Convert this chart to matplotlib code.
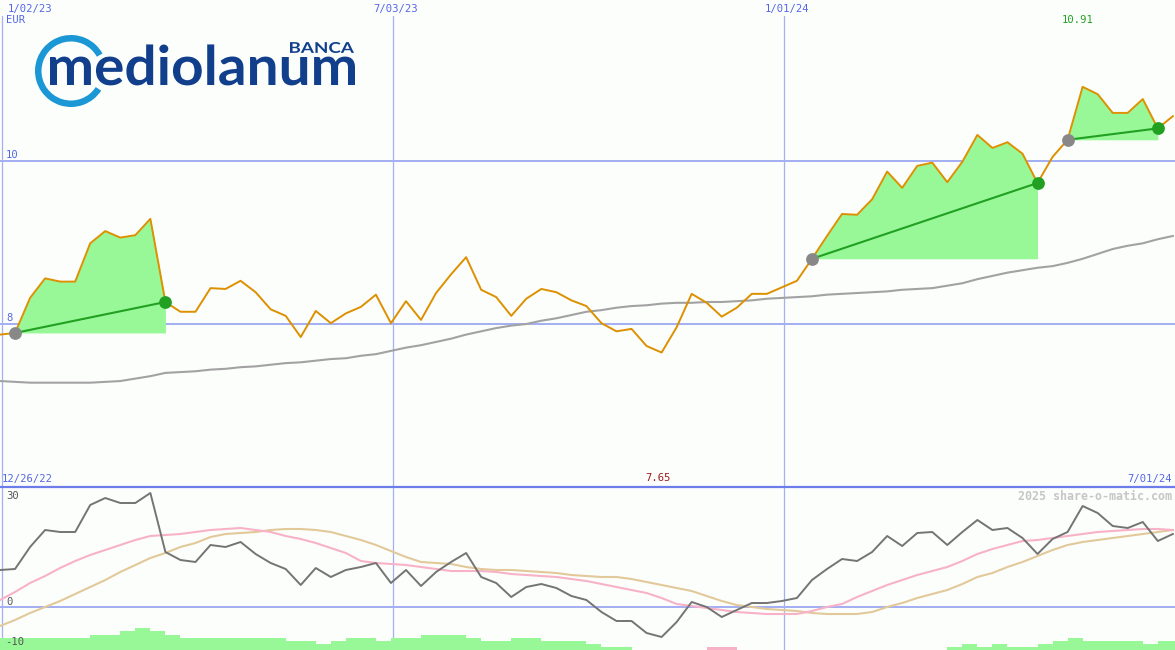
import numpy as np
import pandas as pd
import matplotlib
matplotlib.use("Agg")
import matplotlib.pyplot as plt
from matplotlib.textpath import TextPath
from matplotlib.font_manager import FontProperties
from matplotlib.patches import PathPatch, Wedge
from matplotlib.transforms import Affine2D

# ---------------- data ----------------
dates = pd.date_range("2023-01-01", periods=79, freq="7D")

price = [7.87, 7.89, 8.32, 8.56, 8.52, 8.52, 8.99, 9.14, 9.06, 9.09,
         9.29, 8.27, 8.15, 8.15, 8.44, 8.43, 8.53, 8.39, 8.18, 8.10,
         7.84, 8.16, 8.01, 8.13, 8.21, 8.36, 8.01, 8.28, 8.05, 8.38,
         8.61, 8.82, 8.42, 8.33, 8.10, 8.31, 8.43, 8.39, 8.29, 8.22,
         8.01, 7.91, 7.94, 7.73, 7.65, 7.96, 8.37, 8.26, 8.09, 8.20,
         8.37, 8.37, 8.45, 8.53, 8.80, 9.08, 9.35, 9.34, 9.53, 9.87,
         9.67, 9.94, 9.98, 9.74, 9.99, 10.32, 10.16, 10.23, 10.09, 9.73,
         10.05, 10.26, 10.91, 10.82, 10.59, 10.59, 10.76, 10.40, 10.55]

moving_avg = [7.30, 7.29, 7.28, 7.28, 7.28, 7.28, 7.28, 7.29, 7.30, 7.33,
              7.36, 7.40, 7.41, 7.42, 7.44, 7.45, 7.47, 7.48, 7.50, 7.52,
              7.53, 7.55, 7.57, 7.58, 7.61, 7.63, 7.67, 7.71, 7.74, 7.78,
              7.82, 7.87, 7.91, 7.95, 7.98, 8.00, 8.04, 8.07, 8.11, 8.15,
              8.17, 8.20, 8.22, 8.23, 8.25, 8.26, 8.26, 8.27, 8.27, 8.28,
              8.29, 8.31, 8.32, 8.33, 8.34, 8.36, 8.37, 8.38, 8.39, 8.40,
              8.42, 8.43, 8.44, 8.47, 8.50, 8.55, 8.59, 8.63, 8.66, 8.69,
              8.71, 8.75, 8.80, 8.86, 8.92, 8.96, 8.99, 9.04, 9.08]

oscillator = [9.25, 9.5, 15, 19.25, 18.75, 18.75, 25.5, 27.25, 26, 26,
              28.5, 13.75, 11.75, 11.25, 15.5, 15, 16.25, 13.25, 11, 9.5,
              5.5, 9.75, 7.5, 9.25, 10, 11, 6, 9.25, 5.25, 8.75,
              11.25, 13.5, 7.5, 6, 2.5, 5, 5.75, 4.75, 2.75, 1.75,
              -1.25, -3.5, -3.5, -6.5, -7.5, -3.75, 1.25, 0, -2.5, -0.75,
              1, 1, 1.5, 2.25, 6.75, 9.5, 12, 11.5, 13.75, 17.75,
              15.25, 18.5, 18.75, 15.5, 18.75, 21.75, 19.25, 19.75, 17.25, 13.25,
              17, 18.75, 25.25, 23.5, 20.25, 19.75, 21.25, 16.5, 18.25]

signal_fast = [1.75, 3.75, 6, 7.75, 9.75, 11.5, 13, 14.25, 15.5, 16.75,
               17.75, 18, 18.25, 18.75, 19.25, 19.5, 19.75, 19.25, 18.75, 17.75,
               17, 16, 14.75, 13.5, 11.5, 11, 10.75, 10.5, 10, 9.5,
               9, 9, 9, 8.75, 8.25, 8, 7.75, 7.5, 7, 6.5,
               5.75, 5, 4.25, 3.5, 2.25, 0.75, 0.25, -0.25, -0.75, -1.25,
               -1.5, -1.75, -1.75, -1.75, -1, 0, 0.75, 2.5, 4, 5.5,
               6.75, 8, 9, 10, 11.5, 13.25, 14.5, 15.5, 16.5, 16.75,
               17.25, 17.75, 18.25, 18.75, 19, 19.25, 19.5, 19.5, 19.25]

signal_slow = [-4.75, -3.25, -1.5, 0, 1.5, 3.25, 5, 6.75, 8.75, 10.5,
               12.25, 13.5, 15, 16, 17.5, 18.25, 18.5, 18.75, 19.25, 19.5,
               19.5, 19.25, 18.75, 17.75, 16.75, 15.5, 14, 12.5, 11.25, 11,
               10.75, 10, 9.5, 9.25, 9.25, 9, 8.75, 8.5, 8, 7.75,
               7.5, 7.5, 7, 6.25, 5.5, 4.75, 4, 2.75, 1.5, 0.5,
               0, -0.5, -0.75, -1, -1.5, -1.75, -1.75, -1.75, -1.25, 0,
               1, 2.25, 3.25, 4.25, 5.75, 7.5, 8.5, 10, 11.25, 12.75,
               14.25, 15.5, 16.25, 16.75, 17.25, 17.75, 18.25, 18.75, 19.25]

histogram = [3.1, 3.1, 3.1, 3.1, 3.1, 3.1, 3.8, 3.8, 4.75, 5.5,
             4.75, 3.8, 3.1, 3.1, 3.1, 3.1, 3.1, 3.1, 3.1, 2.25,
             2.25, 1.6, 2.25, 3.1, 3.1, 2.25, 3.1, 3.1, 3.8, 3.8,
             3.8, 3.1, 2.25, 2.25, 3.1, 3.1, 2.25, 2.25, 2.25, 1.6,
             0.75, 0.75, 0, 0, 0, 0, 0, -0.75, -0.75, 0,
             0, 0, 0, 0, 0, 0, 0, 0, 0, 0,
             0, 0, 0, 0.75, 1.6, 0.75, 1.6, 0.75, 0.75, 1.6,
             2.25, 3.1, 2.25, 2.25, 2.25, 2.25, 1.6, 2.25, 2.25]

buy_idx = [1, 54, 71]
sell_idx = [11, 69, 77]

grid_dates = pd.to_datetime(["2023-01-02", "2023-07-03", "2024-01-01"])
grid_labels = ["1/02/23", "7/03/23", "1/01/24"]
price_levels = [8, 10]
osc_levels = [30, 0, -10]
currency = "EUR"
bottom_start_label = "12/26/22"
bottom_end_label = "7/01/24"
watermark = "2025 share-o-matic.com"

# ---------------- style ----------------
BG = "#fcfefc"
GRID = "#a4b0f2"
BORDER = "#6c7ce8"
LBL = "#5466e6"
PRICE_C = "#dd9000"
MA_C = "#a2a2a2"
FILL_C = "#98f898"
TRADE_C = "#22a022"
OSC_C = "#747474"
PINK = "#f8b2c8"
BEIGE = "#e2c99a"
MONO = "DejaVu Sans Mono"
FS = 7.6

W, H = 1175, 650
fig = plt.figure(figsize=(W / 100, H / 100), dpi=100, facecolor=BG)

top_px, split_px = 16, 487
ax = fig.add_axes([0, (H - split_px) / H, 1, (split_px - top_px) / H])
axb = fig.add_axes([0, 0, 1, (H - split_px) / H])
for a in (ax, axb):
    a.set_facecolor(BG)
    a.axis("off")
    a.set_xlim(pd.Timestamp("2023-01-01"), pd.Timestamp("2024-07-01"))

ax.set_ylim(6.0, 11.779)
axb.set_ylim(-10.75, 30)

# ---------------- grid ----------------
for lv in price_levels:
    ax.axhline(lv, color=GRID, lw=1.44, zorder=1)
    ax.annotate(str(lv), xy=(0, lv), xycoords=("axes fraction", "data"),
                xytext=(6, 6), textcoords="offset pixels", ha="left", va="center",
                color=LBL, fontsize=FS, family=MONO)
for d in grid_dates:
    ax.axvline(d, color=GRID, lw=0.9, zorder=1)
    axb.axvline(d, color=GRID, lw=0.9, zorder=1)

axb.axhline(0, color=GRID, lw=1.44, zorder=1)
axb.axhline(30, color=BORDER, lw=1.6, zorder=5, clip_on=False)

# ---------------- top panel ----------------
ax.plot(dates, moving_avg, color=MA_C, lw=1.5, zorder=2)
price_arr = np.array(price)
for b, s in zip(buy_idx, sell_idx):
    ax.fill_between(dates[b:s + 1], price_arr[b:s + 1], price_arr[b],
                    color=FILL_C, lw=0, zorder=2)
ax.plot(dates, price, color=PRICE_C, lw=1.4, zorder=3)
for b, s in zip(buy_idx, sell_idx):
    ax.plot([dates[b], dates[s]], [price[b], price[s]], color=TRADE_C, lw=1.5, zorder=4)
    ax.plot(dates[b], price[b], "o", ms=9.2, color="#888888", mec="none", zorder=5)
    ax.plot(dates[s], price[s], "o", ms=9.2, color=TRADE_C, mec="none", zorder=5)

imax = int(np.argmax(price_arr))
imin = int(np.argmin(price_arr))
ax.annotate(f"{price_arr[imax]:.2f}", xy=(dates[imax], 1), xycoords=("data", "axes fraction"),
            xytext=(-5, -4), textcoords="offset pixels", ha="center", va="center",
            color="#22a022", fontsize=FS, family=MONO)
ax.annotate(f"{price_arr[imin]:.2f}", xy=(dates[imin], 0), xycoords=("data", "axes fraction"),
            xytext=(-4, 9), textcoords="offset pixels", ha="center", va="center",
            color="#a01818", fontsize=FS, family=MONO)

# ---------------- bottom panel ----------------
hist_arr = np.array(histogram)
hcolors = [FILL_C if v >= 0 else PINK for v in hist_arr]
axb.bar(dates, np.abs(hist_arr), width=7, align="edge", bottom=-10.75,
        color=hcolors, lw=0, zorder=1)
axb.plot(dates, signal_slow, color=BEIGE, lw=1.5, zorder=2)
axb.plot(dates, signal_fast, color=PINK, lw=1.5, zorder=3)
axb.plot(dates, oscillator, color=OSC_C, lw=1.4, zorder=4)

for lv in osc_levels:
    off = -9 if lv == 30 else 5
    axb.annotate(str(lv), xy=(0, lv), xycoords=("axes fraction", "data"),
                 xytext=(5 if lv < 0 else 6, off), textcoords="offset pixels",
                 ha="left", va="center", color="#555555", fontsize=FS, family=MONO)

# ---------------- texts in pixel coords ----------------
def fx(x):
    return x / W

def fy(y):
    return 1 - y / H

fig.text(fx(8), fy(9), grid_labels[0], ha="left", va="center", color=LBL, fontsize=FS, family=MONO)
for d, lab in zip(grid_dates[1:], grid_labels[1:]):
    xpix = ax.transData.transform((matplotlib.dates.date2num(d), 8))[0]
    fig.text(fx(xpix + 3), fy(9), lab, ha="center", va="center", color=LBL, fontsize=FS, family=MONO)
fig.text(fx(6), fy(20), currency, ha="left", va="center", color=LBL, fontsize=FS, family=MONO)
fig.text(fx(2), fy(479), bottom_start_label, ha="left", va="center", color=LBL, fontsize=FS, family=MONO)
fig.text(fx(1172), fy(479), bottom_end_label, ha="right", va="center", color=LBL, fontsize=FS, family=MONO)
fig.text(fx(1172), fy(496), watermark, ha="right", va="center", color="#c6c6c6",
         fontsize=8.4, family=MONO, weight="bold")

# ---------------- logo ----------------
axl = fig.add_axes([0, 0, 1, 1])
axl.set_xlim(0, W)
axl.set_ylim(H, 0)
axl.axis("off")
axl.patch.set_visible(False)

axl.add_patch(Wedge((71, 71), 36, 33, 331, width=6.5, facecolor="#1b97d6", edgecolor="none"))

logo_font = FontProperties(family="Lato", weight="bold")


def fit_word(txt, x0, x1, y_xh, y_base, prop, color):
    # horizontal fit to [x0, x1]; vertical scale so that the x-height maps to y_xh..y_base
    tp = TextPath((0, 0), txt, size=50, prop=prop)
    ext = tp.get_extents()
    xh = TextPath((0, 0), "x", size=50, prop=prop).get_extents().y1
    sx = (x1 - x0) / ext.width
    sy = (y_base - y_xh) / xh
    tr = Affine2D().translate(-ext.x0, 0).scale(sx, -sy).translate(x0, y_base)
    axl.add_patch(PathPatch(tr.transform_path(tp), facecolor=color, edgecolor="none"))


def fit_box(txt, x0, x1, ytop, ybot, prop, color):
    tp = TextPath((0, 0), txt, size=50, prop=prop)
    ext = tp.get_extents()
    sx = (x1 - x0) / ext.width
    sy = (ybot - ytop) / ext.height
    tr = Affine2D().translate(-ext.x0, -ext.y0).scale(sx, -sy).translate(x0, ybot)
    axl.add_patch(PathPatch(tr.transform_path(tp), facecolor=color, edgecolor="none"))


fit_word("mediolanum", 50, 355, 57, 85, logo_font, "#123f8c")
fit_box("BANCA", 290, 354, 42, 53, logo_font, "#123f8c")

fig.savefig("out.png", dpi=100, facecolor=BG)
